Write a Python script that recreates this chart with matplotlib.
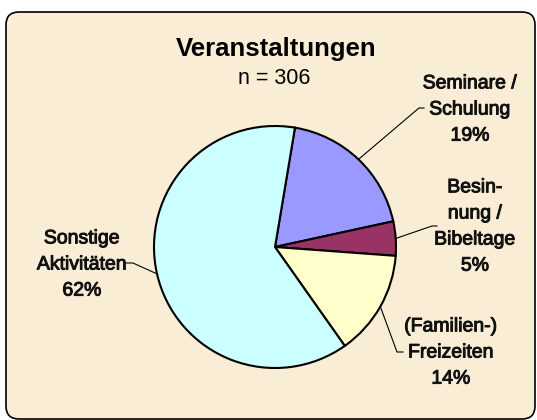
import matplotlib
matplotlib.use('Agg')
import matplotlib.pyplot as plt
import matplotlib.patheffects as pe
from matplotlib.patches import FancyBboxPatch
import numpy as np

# ---- data ----
categories = ['Seminare /\nSchulung', 'Besin-\nnung /\nBibeltage', '(Familien-)\nFreizeiten', 'Sonstige\nAktivitäten']
counts = [58, 14, 43, 191]
percent_labels = ['19%', '5%', '14%', '62%']
colors = ['#9999FF', '#993366', '#FFFFCC', '#CCFFFF']
title = 'Veranstaltungen'
subtitle = 'n = 306'

W, H = 537, 420
fig = plt.figure(figsize=(W / 100, H / 100), dpi=100, facecolor='white')
ax = fig.add_axes([0, 0, 1, 1])


def P(x, y):
    return (x, H - y)


bg = FancyBboxPatch(P(6, 419), 529, 407, boxstyle='round,pad=0,rounding_size=13',
                    fc='#FAEDD6', ec='black', lw=1.2, zorder=0)
ax.add_patch(bg)

cx, cy, R = 275, 247, 121
wedges, _ = ax.pie(counts, colors=colors, startangle=80.5, counterclock=False,
                   center=P(cx, cy), radius=R,
                   wedgeprops=dict(edgecolor='black', linewidth=1.5), frame=False)
for w in wedges:
    w.set_zorder(2)
ax.set_xlim(0, W)
ax.set_ylim(0, H)
ax.set_aspect('equal')
ax.axis('off')

font = ['Liberation Sans', 'DejaVu Sans']
ax.text(*P(276, 49), title, ha='center', va='center', fontsize=18.5, fontweight='bold',
        family=font)
ax.text(*P(274, 79), subtitle, ha='center', va='center', fontsize=15.5, family=font)

# label layout: text centre, elbow point, horizontal end
layout = [
    ((470, 110), (419, 108), (424, 108)),
    ((475, 227), (432, 226), (437, 226)),
    ((451, 353), (397, 352), (403, 352)),
    ((82, 265), (133, 263), (126, 263)),
]
thick = [pe.withStroke(linewidth=0.7, foreground='#111111')]
for w, cat, pct, (tpos, elbow, end) in zip(wedges, categories, percent_labels, layout):
    ang = np.deg2rad((w.theta1 + w.theta2) / 2)
    sx, sy = w.center[0] + w.r * np.cos(ang), w.center[1] + w.r * np.sin(ang)
    ex, ey = P(*elbow)
    fx, fy = P(*end)
    ax.plot([sx, ex, fx], [sy, ey, fy], color='black', lw=0.8, zorder=3)
    ax.text(*P(*tpos), cat + '\n' + pct, ha='center', va='center', fontsize=14,
            family=font, linespacing=1.7, color='#111111', path_effects=thick)

fig.savefig('out.png', dpi=100, facecolor='white')
